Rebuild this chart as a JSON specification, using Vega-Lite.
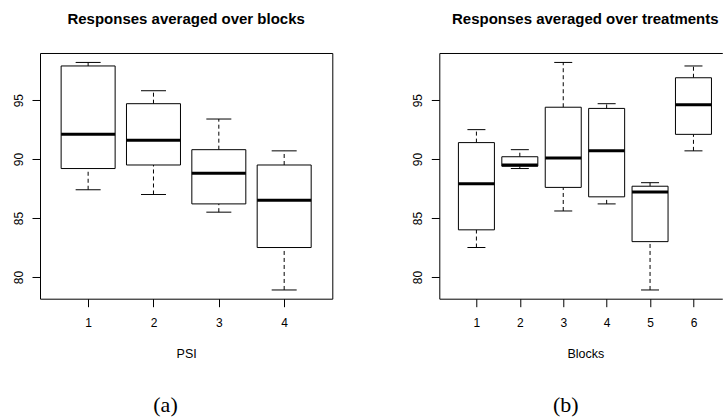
{
  "$schema": "https://vega.github.io/schema/vega-lite/v6.json",
  "padding": {"left": 11, "top": 11, "right": 0, "bottom": 0},
  "background": "white",
  "bounds": "flush",
  "spacing": 106.3,
  "datasets": {
    "blocks": [
      {"g": 1, "lo": 87.4, "q1": 89.2, "med": 92.1, "q3": 97.9, "hi": 98.2},
      {"g": 2, "lo": 87.0, "q1": 89.5, "med": 91.6, "q3": 94.7, "hi": 95.8},
      {"g": 3, "lo": 85.5, "q1": 86.2, "med": 88.8, "q3": 90.8, "hi": 93.4},
      {"g": 4, "lo": 78.9, "q1": 82.5, "med": 86.5, "q3": 89.5, "hi": 90.7}
    ],
    "treat": [
      {"g": 1, "lo": 82.5, "q1": 84.0, "med": 87.9, "q3": 91.4, "hi": 92.5},
      {"g": 2, "lo": 89.2, "q1": 89.4, "med": 89.5, "q3": 90.2, "hi": 90.8},
      {"g": 3, "lo": 85.6, "q1": 87.6, "med": 90.1, "q3": 94.4, "hi": 98.2},
      {"g": 4, "lo": 86.2, "q1": 86.8, "med": 90.7, "q3": 94.3, "hi": 94.7},
      {"g": 5, "lo": 78.9, "q1": 83.0, "med": 87.2, "q3": 87.7, "hi": 88.0},
      {"g": 6, "lo": 90.7, "q1": 92.1, "med": 94.6, "q3": 96.9, "hi": 97.9}
    ]
  },
  "config": {
    "font": "Liberation Sans",
    "view": {"stroke": "black", "strokeWidth": 1},
    "axis": {
      "grid": false,
      "domain": false,
      "labelFont": "Liberation Sans",
      "labelFontSize": 12,
      "labelColor": "black",
      "tickColor": "black",
      "tickSize": 8,
      "tickWidth": 1,
      "titleColor": "black",
      "titleFont": "Liberation Sans",
      "titleFontWeight": "normal",
      "titleFontSize": 12.5
    },
    "title": {"font": "Liberation Sans", "fontSize": 15, "fontWeight": "bold", "color": "black", "baseline": "alphabetic", "offset": 26, "anchor": "middle", "frame": "group"}
  },
  "hconcat": [
    {
      "width": 292.3,
      "height": 245.7,
      "title": {"text": "Responses averaged over blocks"},
      "data": {"name": "blocks"},
      "encoding": {
        "x": {
          "field": "g", "type": "quantitative",
          "scale": {"domain": [0.34, 4.66], "nice": false, "zero": false},
          "axis": {"values": [1, 2, 3, 4], "labelPadding": 11, "labelBaseline": "top", "title": "PSI", "titleY": 55, "titleBaseline": "middle"}
        }
      },
      "layer": [
        {
          "mark": {"type": "rule", "color": "black", "strokeDash": [4, 3], "strokeWidth": 1},
          "encoding": {
            "y": {
              "field": "q3", "type": "quantitative",
              "scale": {"domain": [78.16, 99.0], "nice": false, "zero": false},
              "axis": {"values": [80, 85, 90, 95], "labelAngle": -90, "labelAlign": "center", "labelBaseline": "bottom", "labelPadding": 7,
                       "title": "(a)", "titleAngle": 0, "titleX": 125, "titleY": 352, "titleAlign": "center", "titleBaseline": "middle",
                       "titleFont": "Liberation Serif", "titleFontSize": 22, "titleFontWeight": "normal"}
            },
            "y2": {"field": "hi"}
          }
        },
        {
          "mark": {"type": "rule", "color": "black", "strokeDash": [4, 3], "strokeWidth": 1},
          "encoding": {"y": {"field": "lo", "type": "quantitative"}, "y2": {"field": "q1"}}
        },
        {
          "mark": {"type": "tick", "orient": "horizontal", "size": 25, "thickness": 1, "color": "black", "opacity": 1},
          "encoding": {"y": {"field": "hi", "type": "quantitative"}}
        },
        {
          "mark": {"type": "tick", "orient": "horizontal", "size": 25, "thickness": 1, "color": "black", "opacity": 1},
          "encoding": {"y": {"field": "lo", "type": "quantitative"}}
        },
        {
          "mark": {"type": "bar", "width": 54, "fill": "white", "stroke": "black", "strokeWidth": 1},
          "encoding": {"y": {"field": "q1", "type": "quantitative"}, "y2": {"field": "q3"}}
        },
        {
          "mark": {"type": "tick", "orient": "horizontal", "size": 54, "thickness": 3, "color": "black", "opacity": 1},
          "encoding": {"y": {"field": "med", "type": "quantitative"}}
        }
      ]
    },
    {
      "width": 283,
      "height": 245.7,
      "view": {"stroke": null},
      "title": {"text": "Responses averaged over treatments", "dx": 4.5},
      "data": {"name": "treat"},
      "resolve": {"axis": {"x": "independent"}},
      "layer": [
        {
          "mark": {"type": "rule", "color": "black", "strokeDash": [4, 3], "strokeWidth": 1},
          "encoding": {
            "x": {
              "field": "g", "type": "quantitative",
              "scale": {"domain": [0.26, 6.549], "nice": false, "zero": false},
              "axis": {"values": [1, 2, 3, 4, 5, 6], "labelPadding": 11, "labelBaseline": "top", "domain": true, "domainColor": "black",
                       "title": "Blocks", "titleX": 146, "titleY": 55, "titleBaseline": "middle"}
            },
            "y": {
              "field": "q3", "type": "quantitative",
              "scale": {"domain": [78.16, 99.0], "nice": false, "zero": false},
              "axis": {"values": [80, 85, 90, 95], "labelAngle": -90, "labelAlign": "center", "labelBaseline": "bottom", "labelPadding": 7,
                       "domain": true, "domainColor": "black",
                       "title": "(b)", "titleAngle": 0, "titleX": 126, "titleY": 352, "titleAlign": "center", "titleBaseline": "middle",
                       "titleFont": "Liberation Serif", "titleFontSize": 22, "titleFontWeight": "normal"}
            },
            "y2": {"field": "hi"}
          }
        },
        {
          "mark": {"type": "rule", "color": "black", "strokeDash": [4, 3], "strokeWidth": 1},
          "encoding": {
            "x": {"field": "g", "type": "quantitative",
                  "axis": {"orient": "top", "labels": false, "ticks": false, "domain": true, "domainColor": "black", "title": null}},
            "y": {"field": "lo", "type": "quantitative"}, "y2": {"field": "q1"}
          }
        },
        {
          "mark": {"type": "tick", "orient": "horizontal", "size": 18, "thickness": 1, "color": "black", "opacity": 1},
          "encoding": {"x": {"field": "g", "type": "quantitative", "axis": null}, "y": {"field": "hi", "type": "quantitative"}}
        },
        {
          "mark": {"type": "tick", "orient": "horizontal", "size": 18, "thickness": 1, "color": "black", "opacity": 1},
          "encoding": {"x": {"field": "g", "type": "quantitative", "axis": null}, "y": {"field": "lo", "type": "quantitative"}}
        },
        {
          "mark": {"type": "bar", "width": 36, "fill": "white", "stroke": "black", "strokeWidth": 1},
          "encoding": {"x": {"field": "g", "type": "quantitative", "axis": null}, "y": {"field": "q1", "type": "quantitative"}, "y2": {"field": "q3"}}
        },
        {
          "mark": {"type": "tick", "orient": "horizontal", "size": 36, "thickness": 3, "color": "black", "opacity": 1},
          "encoding": {"x": {"field": "g", "type": "quantitative", "axis": null}, "y": {"field": "med", "type": "quantitative"}}
        }
      ]
    }
  ]
}
